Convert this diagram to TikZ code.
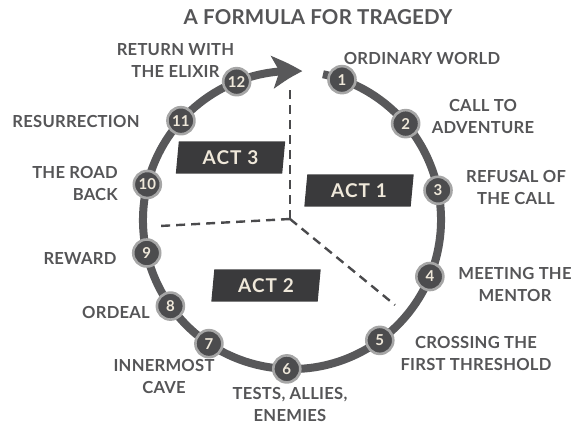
\documentclass[tikz,border=0pt]{standalone}
\usepackage{fontspec}
\setmainfont{Lato}
\usetikzlibrary{arrows.meta,backgrounds,bending}
\definecolor{arcgray}{HTML}{58585A}
\definecolor{lab}{HTML}{555557}
\definecolor{dark}{HTML}{3A3A3C}
\definecolor{cream}{HTML}{EFE8DA}
\definecolor{ringgray}{HTML}{A6A6A6}
\definecolor{numfill}{HTML}{4C4C4E}
\definecolor{dashgray}{HTML}{4A4A4C}
\begin{document}
\begin{tikzpicture}[x=1pt,y=1pt,
  lbl/.style={text=lab, font=\fontsize{16.6}{22}\selectfont\bfseries\addfontfeatures{LetterSpace=1.5}, align=center, inner sep=0pt},
  titlestyle/.style={text=lab, font=\fontsize{20.5}{22}\selectfont\bfseries\addfontfeatures{LetterSpace=1}, inner sep=0pt},
  num/.style={circle, fill=numfill, draw=ringgray, line width=2.6pt, minimum size=27pt, inner sep=0pt, text=cream, font=\fontsize{15}{15}\selectfont\bfseries},
  actlabel/.style={text=cream, font=\fontsize{19}{19}\selectfont\bfseries\addfontfeatures{LetterSpace=6}, minimum width=106pt, minimum height=32pt, inner sep=0pt},
  actfill/.style={fill=dark},
  dline/.style={draw=dashgray, line width=2.4pt, dash pattern=on 9pt off 6pt},
  ringarc/.style={draw=arcgray, line width=8pt, -{Stealth[length=30pt,width=32pt,inset=7pt,bend]}}
  ]
\useasboundingbox (0,0) rectangle (580,430);
\coordinate (c) at (292,210);
\coordinate (hub) at (290,211);
\coordinate (dup) at (290,345);
\coordinate (dleft) at (160,204);
\coordinate (dright) at (395,125);

% title
\node[titlestyle] (title) at (318,413) {A FORMULA FOR TRAGEDY};

% dashed act dividers
\draw[dline] (hub) -- (dup);
\draw[dline] (hub) -- (dleft);
\draw[dline] (hub) -- (dright);

% act labels
\node[actlabel] (a3) at (230.5,272.5) {ACT 3};
\node[actlabel] (a1) at (359,239.5) {ACT 1};
\node[actlabel] (a2) at (266,144.5) {ACT 2};
\begin{scope}[on background layer]
\foreach \a in {a1,a2,a3}{
  \fill[actfill] ([xshift=-1.5pt]\a.south west) -- ([xshift=-1.5pt]\a.south east) -- ([xshift=1.5pt]\a.north east) -- ([xshift=1.5pt]\a.north west) -- cycle;
}
\end{scope}

% ring with arrow
\draw[ringarc] (c) ++(78:149) arc[start angle=78, end angle=-274, radius=149];

% numbered stages
\path (c) ++(70.4:149) node[num] (n1) {1};
\path (c) ++(40.3:149) node[num] (n2) {2};
\path (c) ++(11.5:149) node[num] (n3) {3};
\path (c) ++(-22.3:149) node[num] (n4) {4};
\path (c) ++(-53.9:149) node[num] (n5) {5};
\path (c) ++(-92:149) node[num] (n6) {6};
\path (c) ++(-123.9:149) node[num] (n7) {7};
\path (c) ++(-144.7:149) node[num] (n8) {8};
\path (c) ++(-167.2:149) node[num] (n9) {9};
\path (c) ++(166.2:149) node[num] (n10) {10};
\path (c) ++(138.2:149) node[num] (n11) {11};
\path (c) ++(111.8:149) node[num] (n12) {12};

% stage labels
\node[lbl] (l1) at (422,371) {ORDINARY WORLD};
\node[lbl] (l2) at (483,313.5) {CALL TO\\ADVENTURE};
\node[lbl] (l3) at (516,242) {REFUSAL OF\\THE CALL};
\node[lbl] (l4) at (515,145) {MEETING THE\\MENTOR};
\node[lbl] (l5) at (476,76.5) {CROSSING THE\\FIRST THRESHOLD};
\node[lbl] (l6) at (290,25) {TESTS, ALLIES,\\ENEMIES};
\node[lbl] (l7) at (164,53) {INNERMOST\\CAVE};
\node[lbl] (l8) at (116,117) {ORDEAL};
\node[lbl] (l9) at (80,171) {REWARD};
\node[lbl, align=right, anchor=east] (l10) at (118,246.5) {THE ROAD\\BACK};
\node[lbl] (l11) at (76,308) {RESURRECTION};
\node[lbl] (l12) at (175.5,369) {RETURN WITH\\THE ELIXIR};
\end{tikzpicture}
\end{document}
